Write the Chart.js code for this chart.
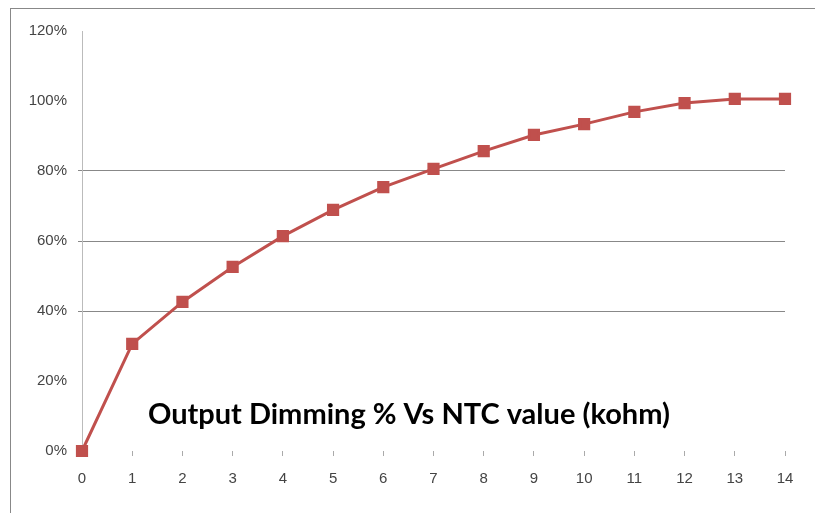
<!DOCTYPE html>
<html>
<head>
<meta charset="utf-8">
<script src="https://cdn.jsdelivr.net/npm/chart.js@4/dist/chart.umd.min.js"></script>
<style>
  body { margin: 0; background: #fff; }
  #wrap { position: relative; width: 815px; height: 513px; }
  #frame { position: absolute; left: 10px; top: 8px; width: 820px; height: 520px; border: 1px solid #888; box-sizing: border-box; }
  canvas { position: absolute; left: 0; top: 0; }
</style>
</head>
<body>
<div id="wrap">
  <div id="frame"></div>
  <canvas id="myChart" width="815" height="513"></canvas>
</div>
<script>
const categories = ['0', '1', '2', '3', '4', '5', '6', '7', '8', '9', '10', '11', '12', '13', '14'];
const dimming = [0, 0.306, 0.426, 0.526, 0.614, 0.689, 0.754, 0.806, 0.857, 0.903, 0.934, 0.969, 0.994, 1.006, 1.006];
const yTicks = [0, 0.2, 0.4, 0.6, 0.8, 1.0, 1.2];
const titleText = 'Output Dimming % Vs NTC value (kohm)';

// title sits inside the plot area, like the excel chart
const innerTitle = {
  id: 'innerTitle',
  afterDatasetsDraw(chart) {
    const ctx = chart.ctx;
    const area = chart.chartArea;
    ctx.save();
    ctx.font = 'bold 29px Lato, "Open Sans", sans-serif';
    ctx.fillStyle = '#000';
    ctx.textAlign = 'center';
    ctx.textBaseline = 'middle';
    ctx.fillText(titleText, area.left + (area.right - area.left) * 0.465, chart.scales.y.getPixelForValue(0.103));
    ctx.restore();
  }
};

const ctx = document.getElementById('myChart');
const myChart = new Chart(ctx, {
  type: 'line',
  data: {
    labels: categories,
    datasets: [{
      data: dimming,
      borderColor: '#C0504D',
      backgroundColor: '#C0504D',
      borderWidth: 3,
      pointStyle: 'rect',
      pointRadius: 6.5,
      pointHoverRadius: 6.5,
      tension: 0,
      clip: false
    }]
  },
  options: {
    responsive: false,
    animation: false,
    layout: { padding: { top: 31, right: 30, left: 0, bottom: 0 } },
    plugins: {
      legend: { display: false },
      tooltip: { enabled: false }
    },
    scales: {
      x: {
        offset: false,
        afterFit(scale) { scale.height = 62; },
        border: { display: false },
        grid: {
          drawOnChartArea: false,
          drawTicks: true,
          tickLength: 5,
          color: '#aaa'
        },
        ticks: {
          color: '#444',
          padding: 14,
          maxRotation: 0,
          font: { family: '"Liberation Sans", sans-serif', size: 15 }
        }
      },
      y: {
        min: 0,
        max: 1.2,
        afterFit(scale) { scale.width = 82; },
        afterBuildTicks(scale) { scale.ticks = yTicks.map(v => ({ value: v })); },
        border: { display: true, color: '#bbb', width: 1 },
        grid: {
          tickLength: 4,
          color: (c) => (c.tick && c.tick.value > 0.3 && c.tick.value < 0.9) ? '#888' : 'rgba(0,0,0,0)'
        },
        ticks: {
          color: '#444',
          padding: 11,
          font: { family: '"Liberation Sans", sans-serif', size: 15 },
          callback: (v) => Math.round(v * 100) + '%'
        }
      }
    }
  },
  plugins: [innerTitle]
});
</script>
</body>
</html>
